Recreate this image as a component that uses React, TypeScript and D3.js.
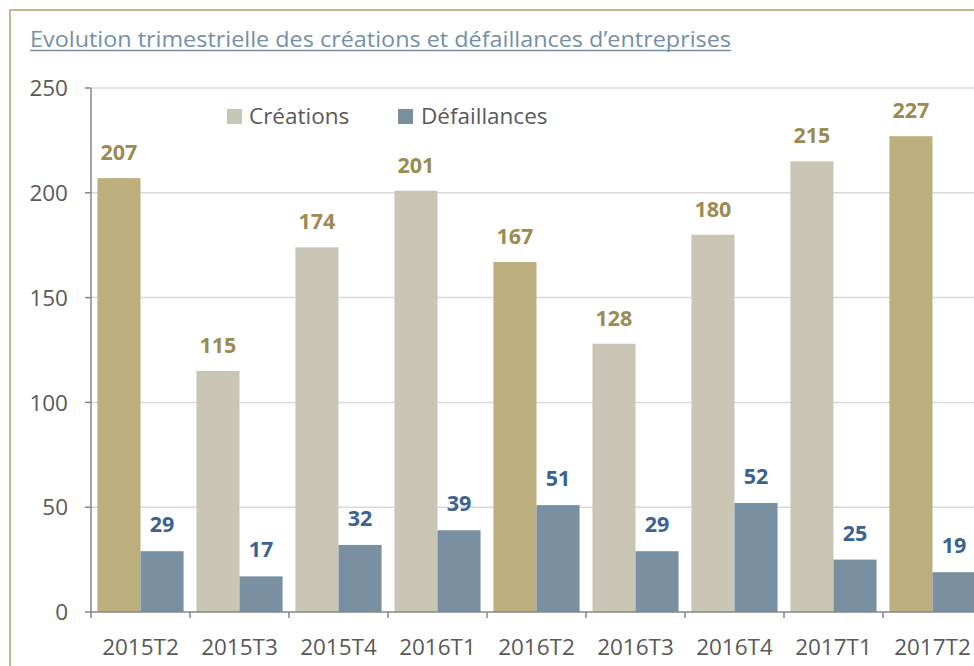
import React from "react";
import * as d3 from "d3";

const categories = ["2015T2", "2015T3", "2015T4", "2016T1", "2016T2", "2016T3", "2016T4", "2017T1", "2017T2"];
const creations = [207, 115, 174, 201, 167, 128, 180, 215, 227];
const defaillances = [29, 17, 32, 39, 51, 29, 52, 25, 19];
const highlighted = ["2015T2", "2016T2", "2017T2"];
const yTicks = [0, 50, 100, 150, 200, 250];
const seriesNames = ["Créations", "Défaillances"];

const FONT = "'Open Sans', 'Liberation Sans', sans-serif";

export default function App() {
  const W = 974;
  const H = 666;
  const left = 91;
  const bottom = 612;
  const top = 88;
  const band = 99;

  const x = d3.scaleBand<string>().domain(categories).range([left, left + band * categories.length]).paddingInner(0.13).paddingOuter(0.065);
  const y = d3.scaleLinear().domain([0, 250]).range([bottom, top]);
  const barW = x.bandwidth() / 2;

  const cNormal = "#C9C6B6";
  const cHigh = "#BCAF7D";
  const cDef = "#7890A1";
  const lblOlive = "#9C8B52";
  const lblBlue = "#3A6391";
  const axisCol = "#868686";
  const textCol = "#595959";

  const boundaries = d3.range(categories.length + 1).map((i) => left + i * band);

  return (
    <svg width={W} height={H} style={{ position: "absolute", left: 0, top: 0, background: "#fff" }}>
      <rect x={0} y={0} width={W} height={H} fill="#fff" />
      <rect x={10} y={10} width={W + 20} height={H + 20} fill="none" stroke="#C5B98A" strokeWidth={2} />
      <text x={30} y={47} fontFamily={FONT} fontSize={22.5} fill="#7590A6" textLength={701} lengthAdjust="spacingAndGlyphs">
        Evolution trimestrielle des créations et défaillances d’entreprises
      </text>
      <line x1={30} x2={731} y1={50.5} y2={50.5} stroke="#7590A6" strokeWidth={1.5} />

      {yTicks.map((t) => (
        <g key={t}>
          {t > 0 && <line x1={left} x2={W} y1={y(t)} y2={y(t)} stroke="#D9D9D9" strokeWidth={1.5} />}
          <line x1={left - 6} x2={left} y1={y(t)} y2={y(t)} stroke={axisCol} strokeWidth={1.5} />
          <text x={68} y={y(t)} dy="0.36em" textAnchor="end" fontFamily={FONT} fontSize={22.5} fill={textCol}>
            {t}
          </text>
        </g>
      ))}

      {categories.map((c, i) => {
        const x0 = x(c)!;
        const cv = creations[i];
        const dv = defaillances[i];
        return (
          <g key={c}>
            <rect x={x0} y={y(cv)} width={barW} height={bottom - y(cv)} fill={highlighted.includes(c) ? cHigh : cNormal} />
            <rect x={x0 + barW} y={y(dv)} width={barW} height={bottom - y(dv)} fill={cDef} />
            <text x={x0 + barW / 2} y={y(cv) - 18} textAnchor="middle" fontFamily={FONT} fontWeight="bold" fontSize={21.5} fill={lblOlive}>
              {cv}
            </text>
            <text x={x0 + barW * 1.5} y={y(dv) - 19} textAnchor="middle" fontFamily={FONT} fontWeight="bold" fontSize={21.5} fill={lblBlue}>
              {dv}
            </text>
            <text x={x0 + barW} y={655} textAnchor="middle" fontFamily={FONT} fontSize={22.5} fill={textCol}>
              {c}
            </text>
          </g>
        );
      })}

      <line x1={left} x2={left} y1={top} y2={bottom} stroke={axisCol} strokeWidth={1.5} />
      <line x1={left} x2={W} y1={bottom} y2={bottom} stroke={axisCol} strokeWidth={1.5} />
      {boundaries.map((b) => (
        <line key={b} x1={b} x2={b} y1={bottom} y2={bottom + 6} stroke={axisCol} strokeWidth={1.5} />
      ))}

      <rect x={227} y={109} width={15} height={15} fill={cNormal} />
      <text x={249} y={124} fontFamily={FONT} fontSize={22.5} fill={textCol}>
        {seriesNames[0]}
      </text>
      <rect x={398} y={109} width={15} height={15} fill={cDef} />
      <text x={421} y={124} fontFamily={FONT} fontSize={22.5} fill={textCol}>
        {seriesNames[1]}
      </text>
    </svg>
  );
}
